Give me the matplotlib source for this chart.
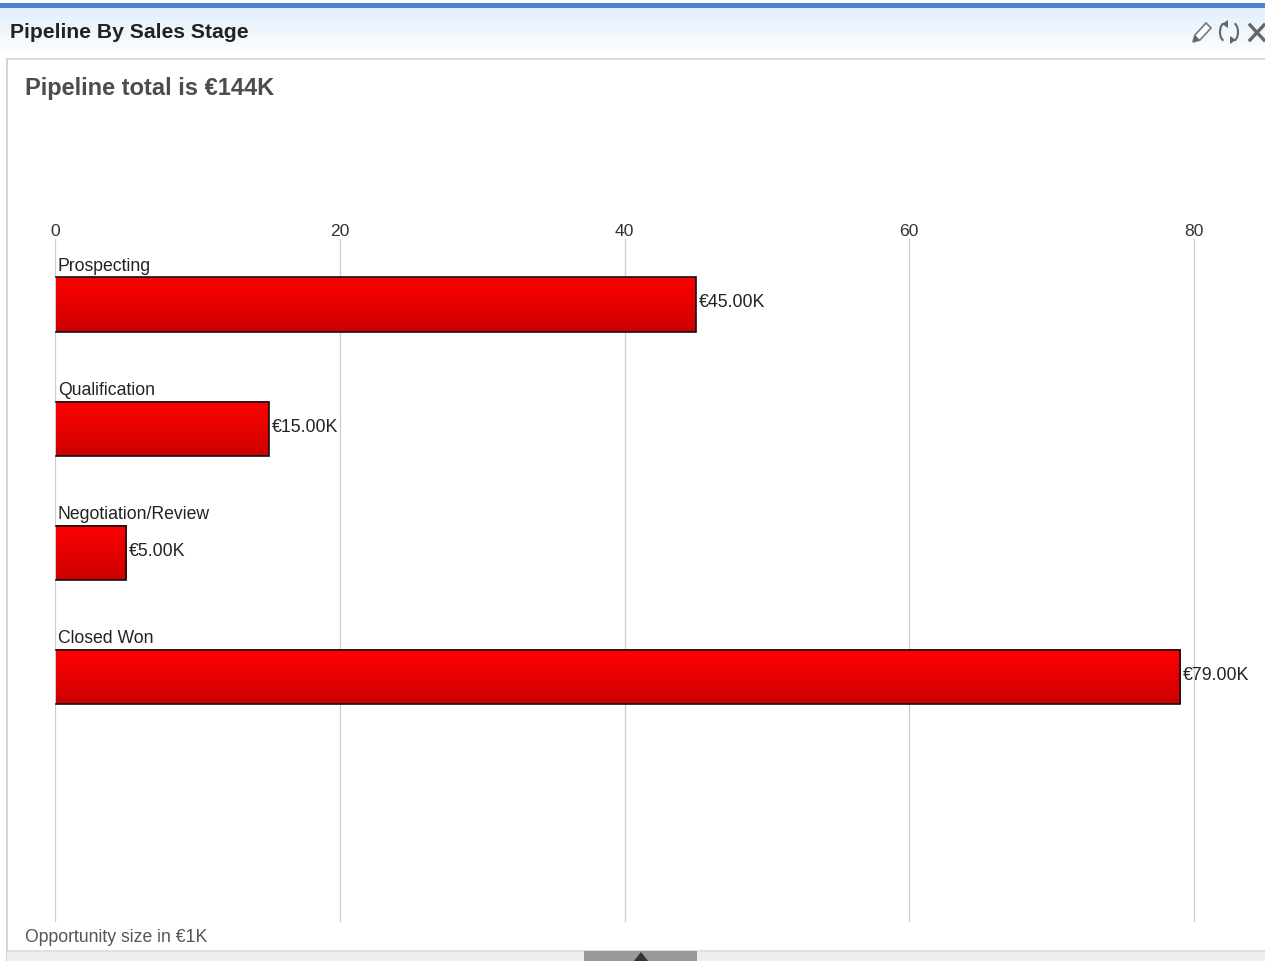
import matplotlib
matplotlib.use("Agg")
import matplotlib.pyplot as plt
import matplotlib.patches as patches
import numpy as np

W, H = 1265, 962
FONT = ['Liberation Sans', 'DejaVu Sans']
plt.rcParams['font.family'] = FONT

stages = ["Prospecting", "Qualification", "Negotiation/Review", "Closed Won"]
values = [45, 15, 5, 79]
value_labels = ["€45.00K", "€15.00K", "€5.00K", "€79.00K"]
ticks = [0, 20, 40, 60, 80]

fig = plt.figure(figsize=(W / 100, H / 100), dpi=100, facecolor='white')

# page furniture, in pixel coordinates
bg = fig.add_axes([0, 0, 1, 1], zorder=0)
bg.set_xlim(0, W)
bg.set_ylim(H, 0)
bg.axis('off')
bg.add_patch(patches.Rectangle((0, 4), W, 5, color='#4a86cf', lw=0))
header = np.linspace(0, 1, 50).reshape(-1, 1)
header = np.dstack([0.88 + 0.12 * header, 0.94 + 0.06 * header, 0.99 + 0.01 * header])
bg.imshow(header, extent=(0, W, 58, 9), aspect='auto', interpolation='bilinear')
bg.set_xlim(0, W)
bg.set_ylim(H, 0)
bg.add_patch(patches.Rectangle((6, 59), W, 2, color='#dcdcdc', lw=0))
bg.add_patch(patches.Rectangle((6, 59), 1.5, H - 59, color='#d4d4d4', lw=0))
bg.add_patch(patches.Rectangle((7, 952), W, 10, color='#eeeeee', lw=0))
bg.add_patch(patches.Rectangle((7, 951), W, 1.5, color='#e0e0e0', lw=0))
bg.add_patch(patches.Rectangle((584, 952), 113, 10, color='#999999', lw=0))
bg.add_patch(patches.Polygon([[634, 962], [641, 953], [648, 962]], color='#333333', lw=0))

# toolbar icons
bg.add_patch(patches.Polygon([[1193, 43], [1195, 36], [1206, 24], [1211, 29], [1200, 41]],
                             facecolor='white', edgecolor='#777777', lw=1.2))
bg.add_patch(patches.Polygon([[1193, 43], [1195, 36], [1200, 41]], color='#666666', lw=0))
bg.add_patch(patches.Arc((1225, 33), 10, 18, theta1=100, theta2=260, color='#666666', lw=1.5))
bg.add_patch(patches.Arc((1233, 33), 10, 18, theta1=280, theta2=80, color='#666666', lw=1.5))
bg.add_patch(patches.Polygon([[1222, 25], [1228, 21], [1228, 29]], color='#666666', lw=0))
bg.add_patch(patches.Polygon([[1236, 41], [1230, 37], [1230, 45]], color='#666666', lw=0))
bg.plot([1250, 1264], [26, 41], color='#666666', lw=2.4)
bg.plot([1250, 1264], [41, 26], color='#666666', lw=2.4)

bg.text(10, 33, "Pipeline By Sales Stage", fontsize=15.2, fontweight='bold',
        color='#222222', va='center', ha='left')
bg.text(25, 88, "Pipeline total is €144K", fontsize=17, fontweight='bold',
        color='#4d4d4d', va='center', ha='left')
bg.text(25, 938, "Opportunity size in €1K", fontsize=12.7, color='#555555',
        va='center', ha='left')

# chart area: x 0..80 sits on px 55..1194, bars 124.3 px apart
x0, x80 = 55.0, 1194.0
top, bottom = 240.0, 923.0
right = W
ax = fig.add_axes([x0 / W, 1 - bottom / H, (right - x0) / W, (bottom - top) / H], zorder=1)
ax.patch.set_alpha(0)
ax.set_xlim(0, (right - x0) / (x80 - x0) * 80)
ax.set_ylim(4.97, -0.527)
for s in ax.spines.values():
    s.set_visible(False)
ax.set_xticks(ticks)
ax.set_yticks([])
ax.xaxis.tick_top()
ax.tick_params(axis='x', length=0, pad=0.5, labelsize=12.6, labelcolor='#333333')
ax.grid(axis='x', color='#cccccc', lw=0.9)
ax.set_axisbelow(True)

grad = np.linspace(0, 1, 64).reshape(-1, 1)
grad = np.dstack([1.0 - 0.2 * grad, 0 * grad, 0 * grad])
xlim, ylim = ax.get_xlim(), ax.get_ylim()
half = 0.2175
for i, v in enumerate(values):
    ax.imshow(grad, extent=(0.05, v, i + half, i - half), aspect='auto', zorder=3,
              interpolation='bilinear')
    # black edge on top, right and bottom only, the left side stays open
    ax.plot([0.05, v, v, 0.05], [i - half, i - half, i + half, i + half],
            color='#111111', lw=1.2, zorder=4, solid_joinstyle='miter')
    ax.text(0.2, i - half - 0.03, stages[i], fontsize=12.7, color='#222222',
            va='bottom', ha='left', zorder=5)
    ax.text(v + 0.2, i - 0.02, value_labels[i], fontsize=12.8, color='#222222',
            va='center', ha='left', zorder=5)
ax.set_xlim(xlim)
ax.set_ylim(ylim)

fig.savefig("out.png", dpi=100)
